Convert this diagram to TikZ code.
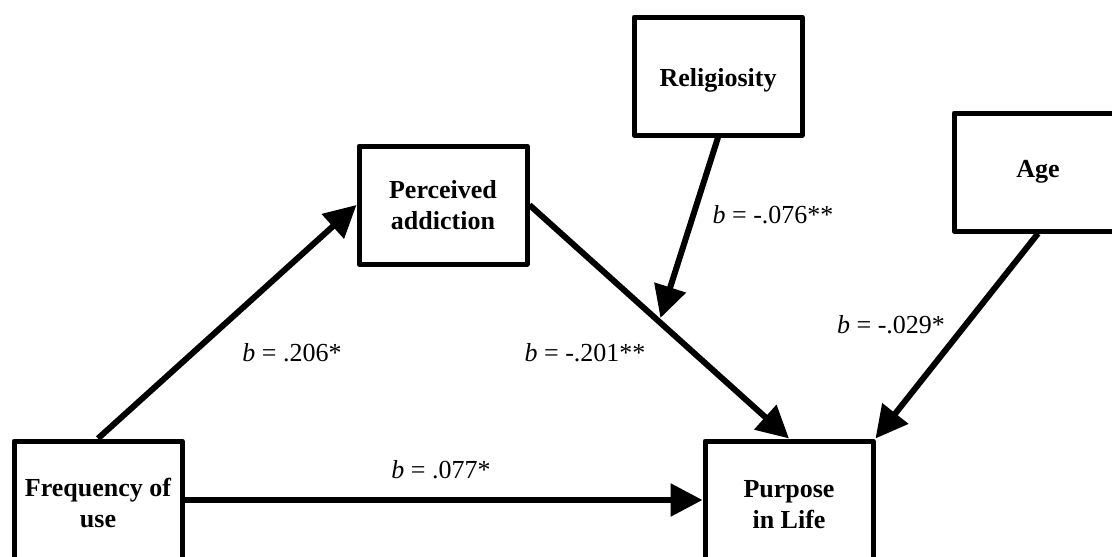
\documentclass[tikz,border=0pt]{standalone}
\usepackage{fontspec}
\setmainfont{Liberation Serif}
\usetikzlibrary{arrows.meta}
\begin{document}
\begin{tikzpicture}[x=1pt,y=-1pt,
  box/.style={draw, line width=5pt, line join=round, minimum width=168pt, minimum height=118pt, inner sep=0pt},
  boxtext/.style={align=center, inner sep=0pt, font=\fontsize{26}{31}\selectfont\bfseries},
  conn/.style={line width=6pt, -{Triangle[length=32pt,width=32pt]}},
  lab/.style={font=\fontsize{26}{30}\selectfont, inner sep=0pt}]
\useasboundingbox (0,0) rectangle (1112,557);
\clip (0,0) rectangle (1112,557);
\node[box] (rel) at (718,76) {};
\node[boxtext] (relt) at (718,80) {Religiosity};
\node[box] (pa) at (443,205) {};
\node[boxtext] (pat) at (443,205) {Perceived\\addiction};
\node[box] (age) at (1038,172) {};
\node[boxtext] (aget) at (1038,172) {Age};
\node[box] (fu) at (98,500) {};
\node[boxtext] (fut) at (98,503) {Frequency of\\use};
\node[box] (pil) at (789,500) {};
\node[boxtext] (pilt) at (789,505) {Purpose\\in Life};
\path (pa.east) -- (pil.north) coordinate[pos=0.5] (mid);
\draw[conn] (fu.north) -- (pa.west);
\draw[conn] (pa.east) -- (pil.north);
\draw[conn, shorten >=4pt] (rel.south) -- (mid);
\draw[conn] (age.south) -- (pil.north east);
\draw[conn] (fu.east) -- (pil.west);
\node[lab] (l1) at (773,215) {\textit{b} = -.076**};
\node[lab] (l2) at (292,353) {\textit{b} = .206*};
\node[lab] (l3) at (585,353) {\textit{b} = -.201**};
\node[lab] (l4) at (891,325) {\textit{b} = -.029*};
\node[lab] (l5) at (441,470) {\textit{b} = .077*};
\end{tikzpicture}
\end{document}
